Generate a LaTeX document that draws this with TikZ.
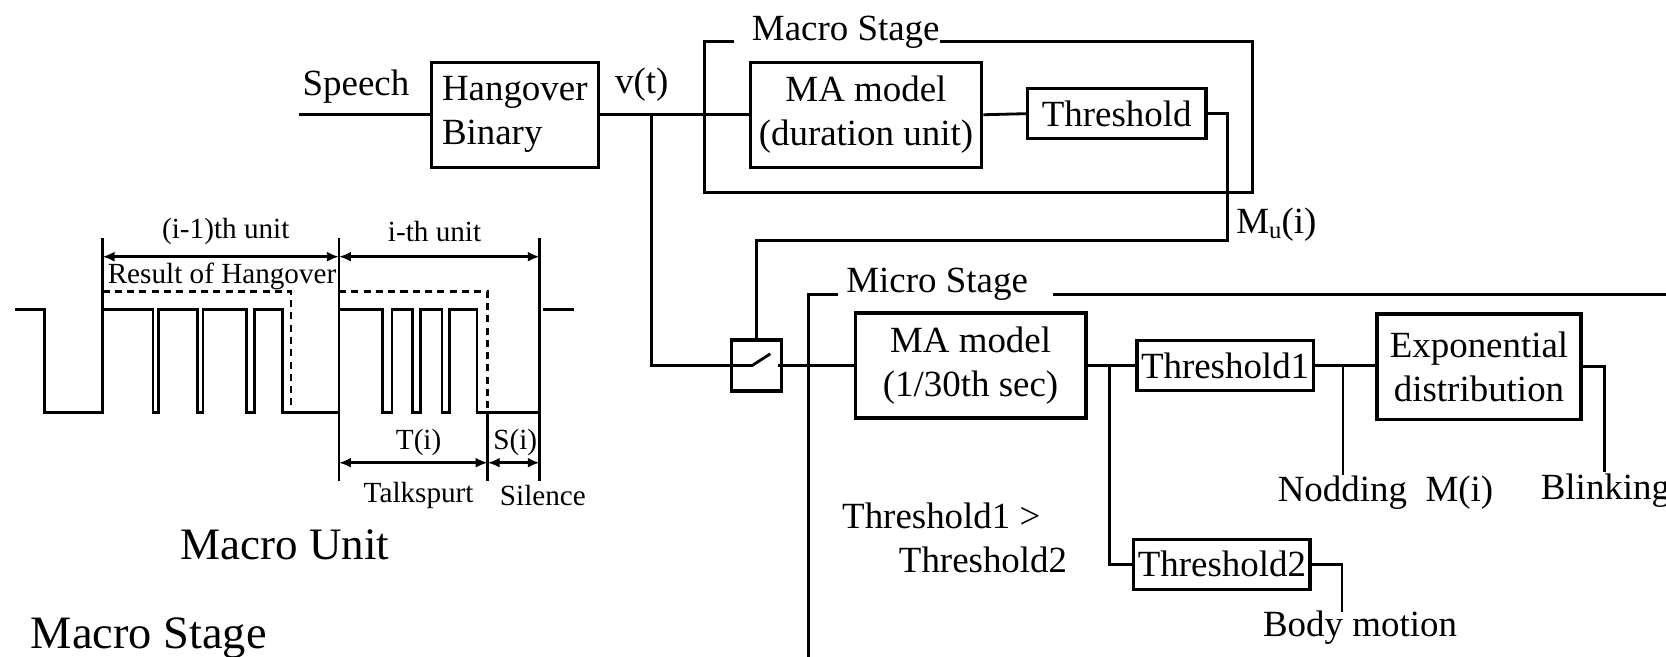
\documentclass[tikz,border=0pt]{standalone}
\usepackage{fontspec}
\setmainfont{Liberation Serif}
\usepackage{tikz}
\usetikzlibrary{positioning,arrows.meta,calc}
\newcommand{\fsbase}{\fontsize{10.5}{12.5}\selectfont}
\newcommand{\fssmall}{\fontsize{8.3}{9.5}\selectfont}
\tikzset{
  blk/.style={draw,line width=0.9pt,align=center,font=\fsbase,inner sep=1pt},
  bigbox/.style={blk,minimum height=1.05cm},
  thbox/.style={blk,minimum width=1.76cm,minimum height=0.5cm},
  lbl/.style={inner sep=0pt,font=\fsbase},
  slbl/.style={inner sep=0pt,font=\fssmall},
  ttl/.style={inner sep=0pt,font=\fontsize{12.8}{15}\selectfont},
  wr/.style={line width=0.8pt},
  dm/.style={line width=0.7pt,{Latex[length=1.2mm,width=1mm]}-{Latex[length=1.2mm,width=1mm]}},
  hg/.style={line width=0.7pt,dash pattern=on 2pt off 1.5pt},
}

\begin{document}
\begin{tikzpicture}[x=0.010625cm,y=-0.010625cm]
  \useasboundingbox (0,0) rectangle (1568,618);
  % macro stage (top)
  \node[bigbox,minimum width=1.668cm,align=left] (hang) at (484.5,108) {Hangover\\Binary};
  \node[bigbox,minimum width=2.316cm] (maD) at (815,108) {MA model\\(duration unit)};
  \node[thbox,minimum width=1.785cm] (thr) at (1051,107) {Threshold};
  \node[lbl] (speech) at (335,82) {Speech};
  \node[lbl] (vt) at (604,80) {v(t)};
  \node[lbl] (macT) at (796,30) {Macro Stage};
  \node[lbl,anchor=west] (mu) at (1163,211) {M\raisebox{-0.35ex}{\fontsize{7}{8}\selectfont u}(i)};
  \draw[wr] (691,39) -- (663,39) -- (663,181) -- (1179,181) -- (1179,39) -- (885,39);
  \coordinate (spIn) at (281,108);
  \coordinate (br1) at (613,108);
  \coordinate (muA) at (1155,226);
  \draw[wr] (spIn) -- (hang.west);
  \draw[wr] (hang.east) -- (maD.west);
  \draw[wr] (maD.east) -- (thr.west);
  % micro stage
  \node[blk,minimum width=0.5cm,minimum height=0.51cm] (sw) at (712,344) {};
  \node[bigbox,minimum width=2.306cm] (maM) at (913.5,344) {MA model\\(1/30th sec)};
  \node[thbox] (th1) at (1153,344) {Threshold1};
  \node[bigbox,minimum width=2.04cm] (expo) at (1392,345) {Exponential\\distribution};
  \node[thbox] (th2) at (1150,531) {Threshold2};
  \node[lbl] (micT) at (882,268) {Micro Stage};
  \node[lbl,align=left,anchor=west] (cond) at (792,506) {Threshold1 >\\\hspace*{0.567cm}Threshold2};
  \node[lbl] (nod) at (1304,464) {Nodding\ \ M(i)};
  \node[lbl] (blink) at (1511,462) {Blinking};
  \node[lbl] (body) at (1280,591) {Body motion};
  \draw[wr] (789,277) -- (761,277) -- (761,618);
  \draw[wr] (991,277) -- (1568,277);
  \draw[wr] (br1) |- (sw.west);
  \draw[wr] (thr.east) -| (muA) -| (sw.north);
  \draw[wr] (sw.west) -- ++(21,0) -- ++(17,-11);
  \draw[wr] (sw.east) -- ++(-5,0);
  \draw[wr] (sw.east) -- (maM.west);
  \draw[wr] (maM.east) -- (th1.west);
  \coordinate (br2) at (1044,344);
  \coordinate (br3) at (1264,344);
  \draw[wr] (br2) |- (th2.west);
  \draw[wr] (th1.east) -- (th1.east -| expo.west);
  \draw[wr] (br3) -- (1264,447);
  \draw[wr] (expo.east) -| (1510,444);
  \draw[wr] (th2.east) -| (1263,576);
  % waveform
  \draw[wr] (13.7,291) -- (42,291) -- (42,388) -- (96.5,388) -- (96.5,224);
  \draw[wr] (96.5,291) -- (144,291) -- (144,388) -- (149.5,388) -- (149.5,291)
    -- (185.5,291) -- (185.5,388) -- (191,388) -- (191,291)
    -- (232,291) -- (232,388) -- (239.5,388) -- (239.5,291)
    -- (266,291) -- (266,388) -- (319,388);
  \draw[wr] (319,224) -- (319,453);
  \draw[wr] (319,291) -- (360,291) -- (360,388) -- (369,388) -- (369,291)
    -- (388,291) -- (388,388) -- (396,388) -- (396,291)
    -- (416,291) -- (416,388) -- (423,388) -- (423,291)
    -- (449,291) -- (449,388) -- (508,388);
  \draw[wr] (508,224) -- (508,453);
  \draw[wr] (459,388) -- (459,453);
  \draw[wr] (511.5,291) -- (540,291);
  \draw[hg] (96.5,274.5) -- (274,274.5) -- (274,388);
  \draw[hg] (319,274.5) -- (459,274.5) -- (459,388);
  \draw[dm] (96.5,241.6) -- (319,241.6);
  \draw[dm] (319,241.6) -- (508,241.6);
  \draw[dm] (319,435.5) -- (459,435.5);
  \draw[dm] (459,435.5) -- (508,435.5);
  \node[slbl] (uPrev) at (212.5,218) {(i-1)th unit};
  \node[slbl] (uCur) at (409,218) {i-th unit};
  \node[slbl] (res) at (209,260) {Result of Hangover};
  \node[slbl] (Ti) at (394,416) {T(i)};
  \node[slbl] (Si) at (485,416) {S(i)};
  \node[slbl] (talk) at (394,466) {Talkspurt};
  \node[slbl] (sil) at (511,466) {Silence};
  \node[ttl] (munit) at (268,513) {Macro Unit};
  \node[ttl,font=\fontsize{13.2}{15}\selectfont] (mstage) at (140,601) {Macro Stage};
\end{tikzpicture}
\end{document}
